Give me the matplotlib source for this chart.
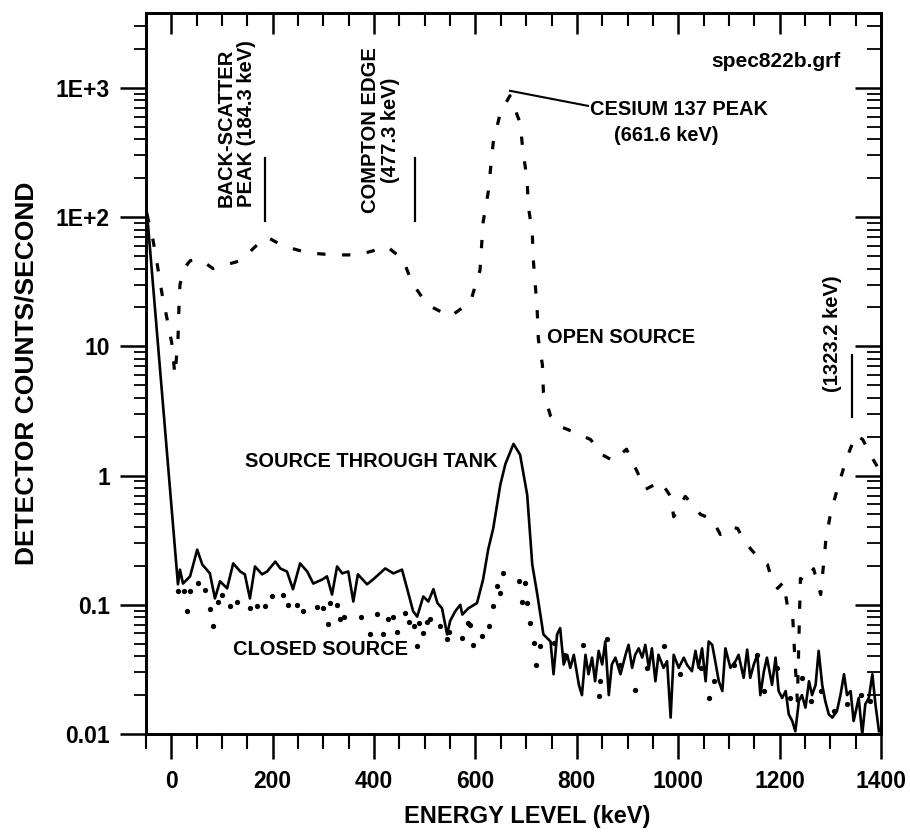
import numpy as np
import matplotlib
matplotlib.use("Agg")
import matplotlib.pyplot as plt
from matplotlib.ticker import MultipleLocator, LogLocator, FixedLocator, FixedFormatter, NullFormatter

plt.rcParams['font.family'] = ['Liberation Sans', 'DejaVu Sans']
plt.rcParams['font.weight'] = 'bold'

# open source (dashed)
open_kev = [-48, -36, -26, -18, -8, 1, 7, 13, 15, 17, 25, 37, 57, 82, 136, 175, 189, 220, 268,
            319, 369, 426, 457, 475, 505, 550, 590, 609, 615, 625, 635, 649, 668, 688, 694, 702,
            704, 712, 714, 718, 722, 724, 732, 734, 748, 767, 803, 827, 850, 872, 898, 919, 935,
            965, 985, 991, 1014, 1044, 1067, 1083, 1099, 1117, 1127, 1143, 1159, 1176, 1182, 1196,
            1208, 1215, 1225, 1227, 1229, 1235, 1241, 1251, 1267, 1281, 1291, 1300, 1314, 1330,
            1350, 1364, 1385, 1399]
open_cps = [105, 66, 39, 25, 16, 10.5, 6.0, 11, 20, 30, 40, 46, 47, 40, 46, 64, 70, 60, 53,
            51, 51, 59, 47, 31, 21, 17, 22, 39, 91, 155, 377, 641, 870, 537, 315, 195,
            123, 76, 47, 30, 18, 11.4, 7.2, 4.4, 2.9, 2.4, 2.1, 1.9, 1.45, 1.3, 1.6, 1.07, 0.78,
            0.9, 0.69, 0.48, 0.69, 0.50, 0.46, 0.35, 0.40, 0.39, 0.33, 0.27, 0.23, 0.205, 0.17, 0.134,
            0.15, 0.10, 0.092, 0.066, 0.046, 0.018, 0.16, 0.15, 0.19, 0.12, 0.31, 0.50, 0.79, 1.28,
            2.07, 1.9, 1.32, 1.07]

# source through tank (solid)
tank_kev = [-48, 13, 17, 23, 37, 51, 61, 76, 86, 96, 110, 122, 136, 145, 155, 165, 179, 189, 205,
            215, 228, 240, 254, 268, 280, 298, 307, 317, 327, 337, 349, 359, 368, 386, 398, 422,
            438, 455, 465, 477, 485, 497, 507, 517, 525, 534, 544, 550, 560, 570, 574, 586, 603,
            615, 625, 635, 649, 659, 675, 688, 702, 712, 722, 734,
            748, 754, 761, 767, 774, 781, 787, 794, 804, 810, 817, 823, 830, 836, 843, 850, 856,
            863, 869, 876, 886, 896, 902, 909, 915, 922, 929, 935, 942, 948, 955, 961, 971, 978,
            985, 991, 1001, 1011, 1017, 1027, 1034, 1040, 1047, 1054, 1060, 1067, 1073, 1080,
            1087, 1093, 1103, 1113, 1119, 1129, 1136, 1142, 1149, 1156, 1162, 1169, 1175, 1185,
            1192, 1198, 1205, 1212, 1218, 1225, 1231, 1238, 1244, 1251, 1258, 1264, 1271, 1277,
            1284, 1290, 1297, 1304, 1313, 1320, 1327, 1333, 1340, 1346, 1356, 1363, 1369, 1376,
            1383, 1389, 1396]
tank_cps = [108, 0.144, 0.187, 0.146, 0.166, 0.267, 0.205, 0.175, 0.112, 0.152, 0.134, 0.209, 0.181,
            0.172, 0.112, 0.198, 0.172, 0.181, 0.216, 0.191, 0.181, 0.132, 0.209, 0.181, 0.146,
            0.157, 0.166, 0.120, 0.198, 0.175, 0.181, 0.106, 0.172, 0.144, 0.157, 0.191, 0.175,
            0.187, 0.134, 0.089, 0.081, 0.116, 0.106, 0.132, 0.103, 0.094, 0.059, 0.075, 0.089,
            0.10, 0.084, 0.094, 0.103, 0.157, 0.267, 0.39, 0.85, 1.23, 1.76, 1.45, 0.71, 0.205,
            0.120, 0.059,
            0.052, 0.029, 0.059, 0.066, 0.0345, 0.041, 0.0325, 0.041, 0.024, 0.020, 0.041, 0.029,
            0.039, 0.0256, 0.044, 0.0345, 0.052, 0.020, 0.0345, 0.039, 0.029, 0.041, 0.049, 0.0325,
            0.041, 0.046, 0.039, 0.049, 0.0325, 0.046, 0.0256, 0.041, 0.0325, 0.0366, 0.0134,
            0.041, 0.0325, 0.039, 0.0345, 0.0306, 0.044, 0.0325, 0.046, 0.0256, 0.052, 0.049,
            0.0366, 0.0256, 0.0215, 0.046, 0.0325, 0.0366, 0.041, 0.0272, 0.045, 0.0272, 0.0345,
            0.041, 0.020, 0.0306, 0.039, 0.024, 0.039, 0.0215, 0.019, 0.0215, 0.0142, 0.0126,
            0.0105, 0.018, 0.020, 0.016, 0.0256, 0.020, 0.024, 0.044, 0.024, 0.018, 0.0142, 0.0134,
            0.015, 0.020, 0.029, 0.020, 0.0215, 0.0126, 0.019, 0.0099, 0.017, 0.019, 0.029, 0.017,
            0.0105]

# closed source (dots)
closed_kev = [14, 24, 30, 37, 53, 67, 76, 82, 93, 99, 116, 130, 155, 169, 185, 198, 220, 231, 247,
              260, 287, 299, 313, 326, 310, 333, 340, 374, 391, 405, 418, 428, 438, 445, 461, 468,
              478, 484, 488, 497, 504, 511, 530, 544, 547, 573, 586, 590, 596, 613, 626, 634, 642,
              649, 655, 685, 698, 692, 701, 708, 715, 728, 720, 754, 774, 813, 843, 846, 860, 886,
              915, 938, 971, 1004, 1044, 1060, 1070, 1110, 1156, 1169, 1195, 1221, 1244, 1261,
              1281, 1307, 1333, 1360, 1379]
closed_cps = [0.127, 0.127, 0.089, 0.127, 0.147, 0.131, 0.092, 0.068, 0.106, 0.120, 0.097, 0.106,
              0.094, 0.097, 0.097, 0.116, 0.120, 0.10, 0.10, 0.089, 0.096, 0.094, 0.103, 0.10,
              0.071, 0.077, 0.081, 0.081, 0.059, 0.085, 0.059, 0.077, 0.081, 0.062, 0.086, 0.073,
              0.068, 0.048, 0.072, 0.061, 0.074, 0.077, 0.069, 0.054, 0.062, 0.055, 0.072, 0.070,
              0.049, 0.057, 0.068, 0.097, 0.139, 0.123, 0.176, 0.152, 0.147, 0.106, 0.103, 0.072,
              0.051, 0.048, 0.0345, 0.051, 0.041, 0.049, 0.0196, 0.0256, 0.054, 0.0345, 0.022,
              0.0325, 0.048, 0.029, 0.0325, 0.019, 0.0256, 0.0345, 0.041, 0.0215, 0.0325, 0.019,
              0.027, 0.018, 0.0215, 0.015, 0.017, 0.020, 0.018]

# energy markers: (keV, low, high)
marker_lines = [(185, 94, 288), (481, 94, 288), (1342, 2.85, 8.5)]

y_ticks = [0.01, 0.1, 1, 10, 100, 1000]
y_labels = ['0.01', '0.1', '1', '10', '1E+2', '1E+3']
x_ticks = [0, 200, 400, 600, 800, 1000, 1200, 1400]

fig = plt.figure(figsize=(9.1, 8.38), dpi=100)
ax = fig.add_axes([146 / 910, 1 - 734 / 838, 735 / 910, 721 / 838])

ax.plot(open_kev, open_cps, color='black', lw=2.3, dashes=(2.6, 5.2), solid_capstyle='round')
ax.plot(tank_kev, tank_cps, color='black', lw=1.9)
ax.plot(closed_kev, closed_cps, 'o', color='black', ms=3.8, mew=0)

for xk, lo, hi in marker_lines:
    ax.plot([xk, xk], [lo, hi], color='black', lw=1.6)

ax.set_yscale('log')
ax.set_xlim(-50, 1400)
ax.set_ylim(0.01, 3800)

ax.xaxis.set_major_locator(FixedLocator(x_ticks))
ax.xaxis.set_minor_locator(MultipleLocator(50))
ax.yaxis.set_major_locator(FixedLocator(y_ticks))
ax.yaxis.set_major_formatter(FixedFormatter(y_labels))
ax.yaxis.set_minor_locator(LogLocator(base=10, subs=np.arange(2, 10)))
ax.yaxis.set_minor_formatter(NullFormatter())

ax.tick_params(axis='both', which='major', direction='out', width=1.8, labelsize=16.5)
ax.tick_params(axis='x', which='major', length=18, pad=8)
ax.tick_params(axis='x', which='minor', direction='out', length=11, width=1.5)
ax.tick_params(axis='y', which='major', length=19, pad=7)
ax.tick_params(axis='y', which='minor', direction='out', length=9, width=1.3)

# top and right ticks point inwards
axt = ax.twiny()
axt.set_xlim(ax.get_xlim())
axt.xaxis.set_major_locator(FixedLocator(x_ticks))
axt.xaxis.set_minor_locator(MultipleLocator(50))
axt.tick_params(axis='x', which='major', direction='in', length=15, width=1.8, labeltop=False)
axt.tick_params(axis='x', which='minor', direction='in', length=9, width=1.5)

axr = ax.twinx()
axr.set_yscale('log')
axr.set_ylim(ax.get_ylim())
axr.yaxis.set_major_locator(FixedLocator(y_ticks))
axr.yaxis.set_minor_locator(LogLocator(base=10, subs=np.arange(2, 10)))
axr.yaxis.set_minor_formatter(NullFormatter())
axr.tick_params(axis='y', which='major', direction='in', length=19, width=1.8, labelright=False)
axr.tick_params(axis='y', which='minor', direction='in', length=10, width=1.3)

for a in (ax, axt, axr):
    for s in a.spines.values():
        s.set_linewidth(1.8)

ax.set_xlabel('ENERGY LEVEL (keV)', fontsize=17, fontweight='bold')
ax.xaxis.set_label_coords(0.518, -0.098)
ax.set_ylabel('DETECTOR COUNTS/SECOND', fontsize=19, fontweight='bold', labelpad=12)

ax.text(1320, 1615, 'spec822b.grf', fontsize=15, ha='right', va='center')
ax.text(1002, 676, 'CESIUM 137 PEAK', fontsize=14.4, ha='center', va='center')
ax.text(977, 427, '(661.6 keV)', fontsize=14.4, ha='center', va='center')
ax.plot([668, 822], [950, 726], color='black', lw=1.5)
ax.text(741, 11.8, 'OPEN SOURCE', fontsize=14.4, ha='left', va='center')
ax.text(643, 1.28, 'SOURCE THROUGH TANK', fontsize=14.4, ha='right', va='center')
ax.text(122, 0.045, 'CLOSED SOURCE', fontsize=14.4, ha='left', va='center')
ax.text(129, 119, 'BACK-SCATTER\nPEAK (184.3 keV)', fontsize=14.5, rotation=90,
        ha='center', va='bottom', multialignment='left', linespacing=1.1)
ax.text(413, 108, 'COMPTON EDGE\n(477.3 keV)', fontsize=14.5, rotation=90,
        ha='center', va='bottom', multialignment='center', linespacing=1.1)
ax.text(1304, 4.4, '(1323.2 keV)', fontsize=14.5, rotation=90, ha='center', va='bottom')

fig.savefig('out.png', dpi=100)
